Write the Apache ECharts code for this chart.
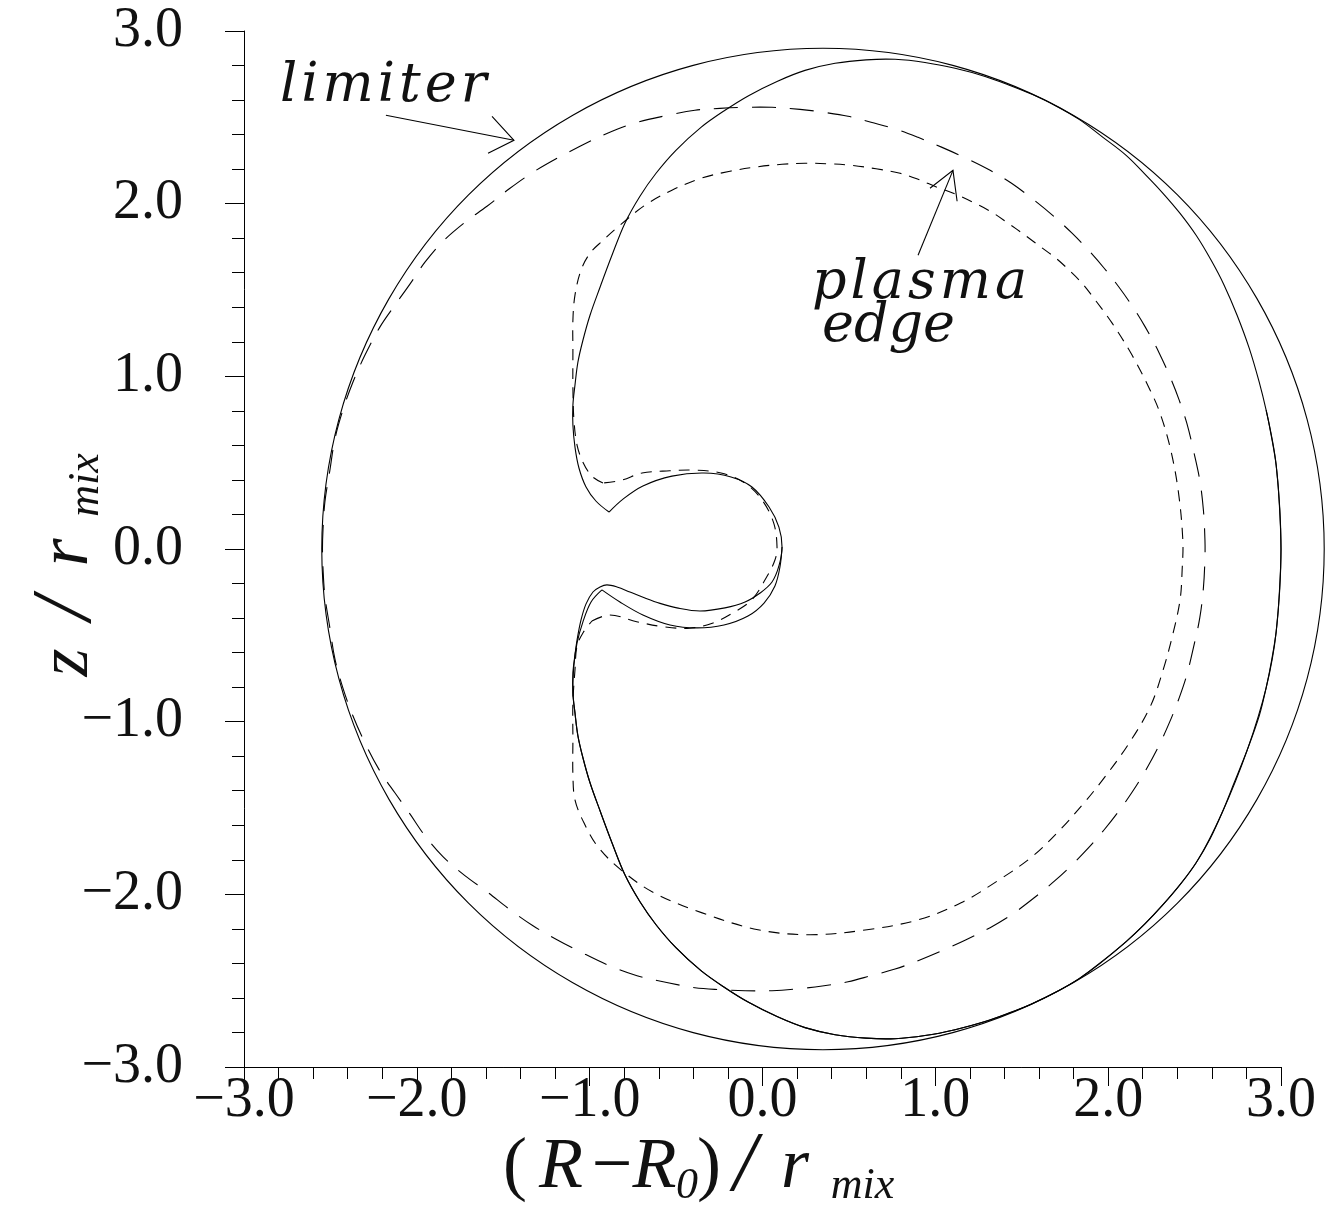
<!DOCTYPE html>
<html><head><meta charset="utf-8">
<script src="https://cdn.jsdelivr.net/npm/echarts@6/dist/echarts.min.js"></script>
<style>html,body{margin:0;padding:0;background:#fff}#c{width:1335px;height:1212px}</style>
</head><body><div id="c"></div>
<script>
// ---- axis ticks ----
const xTicks = [-3, -2, -1, 0, 1, 2, 3];
const zTicks = [-3, -2, -1, 0, 1, 2, 3];

// ---- limiter (solid, closed) : [R-R0, z] in units of r_mix ----
const limiter = [[3.25,0],[3.151,0.751],[2.861,1.45],[2.401,2.051],[1.80,2.511],[1.101,2.801],[0.35,2.9],
 [-0.401,2.801],[-1.10,2.511],[-1.701,2.051],[-2.161,1.45],[-2.451,0.751],[-2.55,0],[-2.451,-0.751],
 [-2.161,-1.45],[-1.701,-2.051],[-1.10,-2.511],[-0.401,-2.801],[0.35,-2.9],[1.101,-2.801],[1.80,-2.511],
 [2.401,-2.051],[2.861,-1.45],[3.151,-0.751]];

// ---- solid plasma boundary A (starts/ends at upper cusp) ----
const plasmaA = [[-0.888,0.214],[-0.964,0.278],[-1.021,0.359],[-1.062,0.469],[-1.085,0.590],[-1.097,0.718],
 [-1.097,0.833],[-1.085,0.949],[-1.068,1.082],[-1.039,1.209],[-0.998,1.354],[-0.940,1.516],[-0.871,1.701],
 [-0.796,1.887],[-0.709,2.043],[-0.616,2.176],[-0.501,2.309],[-0.356,2.442],[-0.217,2.541],[-0.078,2.627],
 [0.084,2.708],[0.246,2.772],[0.420,2.813],[0.599,2.833],[0.767,2.836],[0.940,2.818],[1.114,2.784],
 [1.288,2.737],[1.432,2.685],[1.560,2.633],[1.693,2.569],[1.832,2.488],[1.970,2.384],[2.104,2.280],
 [2.214,2.170],[2.312,2.066],[2.416,1.944],[2.509,1.817],[2.596,1.672],[2.671,1.528],[2.746,1.354],
 [2.816,1.163],[2.874,0.966],[2.914,0.804],[2.943,0.660],[2.972,0.486],[2.989,0.284],[3.0,0.0],
 [2.989,-0.278],[2.972,-0.480],[2.943,-0.660],[2.914,-0.804],[2.874,-0.966],[2.805,-1.163],[2.729,-1.354],
 [2.659,-1.528],[2.590,-1.678],[2.509,-1.817],[2.416,-1.944],[2.312,-2.066],[2.214,-2.170],[2.104,-2.274],
 [1.970,-2.384],[1.832,-2.488],[1.693,-2.569],[1.560,-2.633],[1.432,-2.685],[1.288,-2.737],[1.114,-2.784],
 [0.940,-2.818],[0.767,-2.836],[0.599,-2.833],[0.420,-2.813],[0.246,-2.772],[0.084,-2.708],[-0.078,-2.627],
 [-0.217,-2.541],[-0.356,-2.442],[-0.501,-2.309],[-0.616,-2.176],[-0.709,-2.043],[-0.796,-1.887],
 [-0.871,-1.701],[-0.940,-1.516],[-0.998,-1.354],[-1.039,-1.209],[-1.068,-1.082],[-1.085,-0.949],
 [-1.097,-0.833],[-1.097,-0.718],[-1.085,-0.613],[-1.073,-0.527],[-1.050,-0.411],[-1.021,-0.318],
 [-0.981,-0.249],[-0.940,-0.220],[-0.900,-0.208],[-0.842,-0.220],[-0.767,-0.249],[-0.680,-0.284],
 [-0.593,-0.315],[-0.495,-0.341],[-0.362,-0.359],[-0.217,-0.341],[-0.101,-0.307],[-0.014,-0.255],
 [0.055,-0.191],[0.095,-0.098],[0.113,0.012],[0.095,0.127],[0.038,0.243],[-0.061,0.359],[-0.182,0.417],
 [-0.339,0.440],[-0.524,0.422],[-0.692,0.365],[-0.807,0.289],[-0.888,0.214]];

// ---- solid plasma boundary B (lower inner arc, then shared outer path) ----
const plasmaBInner = [[0.113,0.012],[0.101,-0.104],[0.072,-0.214],[0.009,-0.313],[-0.084,-0.388],
 [-0.223,-0.440],[-0.379,-0.457],[-0.535,-0.440],[-0.692,-0.382],[-0.825,-0.307],[-0.929,-0.237]];
const plasmaBOuter = [[-0.929,-0.237],[-0.992,-0.307],[-1.039,-0.422],[-1.073,-0.544],[-1.091,-0.671],
 [-1.097,-0.833],[-1.085,-0.949],[-1.068,-1.082],[-1.039,-1.209],[-0.998,-1.354],[-0.940,-1.516],
 [-0.871,-1.701],[-0.796,-1.887],[-0.709,-2.043],[-0.616,-2.176],[-0.501,-2.309],[-0.356,-2.442],
 [-0.217,-2.541],[-0.078,-2.627],[0.084,-2.708],[0.246,-2.772],[0.420,-2.813],[0.599,-2.833],
 [0.767,-2.836],[0.940,-2.818],[1.114,-2.784],[1.288,-2.737],[1.560,-2.633],[1.832,-2.488],
 [2.104,-2.274],[2.312,-2.066],[2.509,-1.817],[2.659,-1.528],[2.805,-1.163],[2.914,-0.804],
 [2.972,-0.480],[3.0,0.0],[2.972,0.486],[2.914,0.804]];

// ---- plasma edge, long dashes (closed) ----
const edgeLong = [[-2.546,0.0],[-2.543,0.110],[-2.532,0.272],[-2.503,0.457],[-2.474,0.637],[-2.428,0.804],
 [-2.370,0.966],[-2.300,1.123],[-2.214,1.285],[-2.127,1.412],[-2.040,1.534],[-1.953,1.661],[-1.849,1.782],
 [-1.722,1.892],[-1.594,1.985],[-1.461,2.089],[-1.328,2.182],[-1.189,2.263],[-1.056,2.332],[-0.900,2.407],
 [-0.726,2.471],[-0.547,2.512],[-0.391,2.541],[-0.246,2.552],[-0.101,2.558],[0.055,2.558],[0.217,2.546],
 [0.356,2.529],[0.495,2.506],[0.628,2.471],[0.767,2.433],[0.900,2.384],[1.039,2.326],[1.178,2.263],
 [1.317,2.193],[1.441,2.118],[1.572,2.020],[1.692,1.921],[1.791,1.829],[1.887,1.730],[1.977,1.626],
 [2.063,1.516],[2.140,1.406],[2.215,1.285],[2.293,1.140],[2.366,0.978],[2.411,0.862],[2.455,0.729],
 [2.493,0.573],[2.530,0.399],[2.551,0.226],[2.560,0.052],
 [2.560,-0.052],[2.551,-0.226],[2.530,-0.399],[2.493,-0.573],[2.455,-0.729],[2.411,-0.862],[2.366,-0.978],
 [2.293,-1.140],[2.215,-1.285],[2.140,-1.406],[2.063,-1.516],[1.977,-1.626],[1.887,-1.730],[1.791,-1.829],
 [1.692,-1.921],[1.572,-2.020],[1.441,-2.118],[1.317,-2.193],[1.178,-2.263],[1.039,-2.326],[0.900,-2.384],
 [0.767,-2.433],[0.628,-2.471],[0.495,-2.506],[0.356,-2.529],[0.217,-2.546],[0.055,-2.558],[-0.101,-2.558],
 [-0.246,-2.552],[-0.391,-2.541],[-0.547,-2.512],[-0.726,-2.471],[-0.900,-2.407],[-1.056,-2.332],
 [-1.189,-2.263],[-1.328,-2.182],[-1.461,-2.089],[-1.594,-1.985],[-1.722,-1.892],[-1.849,-1.782],
 [-1.953,-1.661],[-2.040,-1.534],[-2.127,-1.412],[-2.214,-1.285],[-2.300,-1.123],[-2.370,-0.966],
 [-2.428,-0.804],[-2.474,-0.637],[-2.503,-0.457],[-2.532,-0.272],[-2.543,-0.110]];

// ---- plasma edge, short dashes: outer part (upper corner -> lower corner) ----
const edgeShortOuter = [[-0.923,0.382],[-0.987,0.422],[-1.039,0.503],[-1.073,0.602],[-1.091,0.747],
 [-1.097,0.938],[-1.097,1.152],[-1.097,1.325],[-1.085,1.470],[-1.050,1.615],[-0.998,1.713],[-0.929,1.782],
 [-0.825,1.875],[-0.680,1.991],[-0.524,2.078],[-0.356,2.147],[-0.188,2.188],[-0.026,2.214],[0.113,2.228],
 [0.246,2.234],[0.379,2.231],[0.518,2.222],[0.657,2.202],[0.796,2.176],[0.900,2.141],[1.010,2.095],
 [1.120,2.054],[1.230,2.002],[1.328,1.950],[1.421,1.887],[1.519,1.817],[1.612,1.748],[1.698,1.684],
 [1.774,1.615],[1.849,1.539],[1.913,1.458],[2.023,1.308],[2.138,1.123],[2.243,0.920],[2.300,0.787],
 [2.358,0.590],[2.405,0.341],[2.432,0.052],[2.428,-0.122],[2.416,-0.295],[2.376,-0.486],[2.318,-0.700],
 [2.243,-0.914],[2.115,-1.134],[1.968,-1.337],[1.861,-1.470],[1.722,-1.626],[1.560,-1.782],[1.369,-1.916],
 [1.149,-2.049],[0.903,-2.147],[0.605,-2.205],[0.275,-2.234],[-0.026,-2.205],[-0.353,-2.106],
 [-0.628,-1.991],[-0.819,-1.858],[-0.952,-1.725],[-1.033,-1.586],[-1.085,-1.453],[-1.097,-1.308],
 [-1.097,-1.105],[-1.097,-0.891],[-1.085,-0.700],[-1.073,-0.561],[-1.039,-0.486],[-0.987,-0.417]];
// ---- short dashes: inner loop (lower corner -> upper corner) ----
const edgeShortInner = [[-0.987,-0.417],[-0.883,-0.382],[-0.728,-0.421],[-0.576,-0.450],[-0.420,-0.459],
 [-0.286,-0.428],[-0.171,-0.370],[-0.063,-0.295],[0.024,-0.162],[0.072,-0.064],[0.084,0.013],[0.065,0.150],
 [-0.003,0.284],[-0.102,0.382],[-0.240,0.440],[-0.399,0.457],[-0.537,0.453],[-0.697,0.440],[-0.813,0.399],
 [-0.923,0.382]];

// ---- annotation arrows ----
const limiterArrow = [[-2.179,2.512],[-1.438,2.367]];
const limiterHead = [[-1.565,2.506],[-1.438,2.367],[-1.588,2.292]];
const edgeArrow = [[0.900,1.701],[1.102,2.193]];
const edgeHead = [[0.969,2.089],[1.102,2.193],[1.126,2.014]];

const fmt = v => (v < 0 ? '\u2212' : '') + Math.abs(v).toFixed(1);
const INK = '#000';

function axis(ticks, margin) {
  return {
    type: 'value', min: ticks[0], max: ticks[ticks.length - 1], interval: 1,
    axisLine: { show: true, onZero: false, lineStyle: { color: INK, width: 1 } },
    axisTick: { show: true, length: 19, lineStyle: { color: INK, width: 1 } },
    minorTick: { show: true, splitNumber: 5, length: 12, lineStyle: { color: INK, width: 1 } },
    splitLine: { show: false }, minorSplitLine: { show: false },
    axisLabel: { formatter: fmt, fontFamily: 'Liberation Serif', fontSize: 56, color: '#111', margin: margin }
  };
}
// one custom series per curve; drawn through the cartesian coordinate system (api.coord)
function curve(data, opts) {
  opts = opts || {};
  return {
    type: 'custom', coordinateSystem: 'cartesian2d', data: data, clip: false, silent: true,
    encode: { x: 0, y: 1 },
    renderItem: function (params, api) {
      if (params.dataIndex !== 0) return null;
      const pts = data.map(function (p) { return api.coord(p); });
      return {
        type: opts.closed ? 'polygon' : 'polyline',
        shape: { points: pts, smooth: opts.smooth == null ? 0.35 : opts.smooth },
        style: { stroke: INK, lineWidth: 1.1, fill: null, lineDash: opts.dash || null }
      };
    }
  };
}

function spaced(word) {
  return word.split('').map(function (ch) { return '{c|' + ch + '}'; }).join('');
}

const chart = echarts.init(document.getElementById('c'), null, { renderer: 'canvas' });
const it = { fontFamily: 'Liberation Serif', fontStyle: 'italic', fontSize: 72, lineHeight: 80, align: 'center', verticalAlign: 'middle', fill: '#111' };
const up = Object.assign({}, it, { fontStyle: 'normal' });
const sub = { fontFamily: 'Liberation Serif', fontStyle: 'italic', fontSize: 44, lineHeight: 40, align: 'center', verticalAlign: 'bottom', fill: '#111' };
function w(base, width, extra) { return Object.assign({}, base, { width: width }, extra || {}); }
const annot = { fontFamily: 'DejaVu Serif', fontStyle: 'italic', fontSize: 54, fill: '#111' };

chart.setOption({
  animation: false,
  backgroundColor: '#fff',
  grid: { left: 244, right: 54, top: 31, bottom: 145, containLabel: false, outerBoundsMode: 'none' },
  xAxis: axis(xTicks, 6),
  yAxis: axis(zTicks, 61),
  series: [
    curve(limiter, { closed: true }),
    curve(plasmaA),
    curve(plasmaBInner),
    curve(plasmaBOuter),
    curve(edgeLong, { closed: true, dash: [24, 14] }),
    curve(edgeShortOuter, { dash: [11, 8] }),
    curve(edgeShortInner, { dash: [11, 8] }),
    curve(limiterArrow, { smooth: 0 }),
    curve(limiterHead, { smooth: 0 }),
    curve(edgeArrow, { smooth: 0 }),
    curve(edgeHead, { smooth: 0 })
  ],
  graphic: [
    { type: 'text', x: 500, y: 1128, silent: true,
      style: { text: '{p|(}{R|R}{m|\u2212}{R2|R}{s0|0}{q|)}{sl|/}{r|r}{mix|mix}', align: 'left', verticalAlign: 'top',
        rich: { p: w(up, 30), R: w(it, 62), m: w(up, 40), R2: w(it, 45), s0: w(sub, 20), q: w(up, 24),
          sl: w(it, 48, { fontSize: 84 }), r: w(it, 52), mix: w(sub, 83) } } },
    { type: 'text', x: 68, y: 567, rotation: Math.PI / 2, silent: true,
      style: { text: '{z|z}{sl|/}{r|r}{mix|mix}', align: 'center', verticalAlign: 'middle',
        rich: { z: w(it, 52), sl: w(it, 56, { fontSize: 84 }), r: w(it, 56), mix: w(sub, 79) } } },
    { type: 'text', x: 278, y: 87, silent: true,
      style: { text: spaced('limiter'), align: 'left', verticalAlign: 'middle',
        rich: { c: Object.assign({}, annot, { padding: [0, 2, 0, 2] }) } } },
    { type: 'text', x: 810, y: 284, silent: true,
      style: { text: spaced('plasma'), align: 'left', verticalAlign: 'middle',
        rich: { c: Object.assign({}, annot, { padding: [0, 2, 0, 2] }) } } },
    { type: 'text', x: 822, y: 327, silent: true,
      style: Object.assign({ text: 'edge', align: 'left', verticalAlign: 'middle' }, annot) }
  ]
});
</script></body></html>
